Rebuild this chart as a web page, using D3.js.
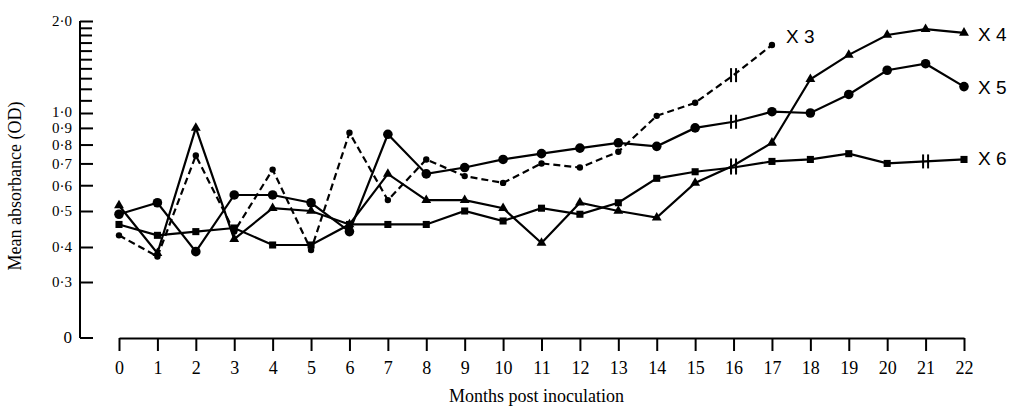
<!DOCTYPE html>
<html>
<head>
<meta charset="utf-8">
<script src="https://cdn.jsdelivr.net/npm/d3@7"></script>
<style>
  body { margin: 0; background: #fff; }
  svg { display: block; }
</style>
</head>
<body>
<div id="chart"></div>
<script>
// months post inoculation
const months = d3.range(0, 23);
const xTickLabels = months.map(String);

// mean absorbance (OD) per series
const x3Values = [0.43, 0.37, 0.74, 0.44, 0.67, 0.39, 0.87, 0.54, 0.72, 0.64, 0.61, 0.70, 0.68, 0.76, 0.98, 1.08, 1.33, 1.67];
const x4Values = [0.52, 0.38, 0.90, 0.42, 0.51, 0.50, 0.46, 0.65, 0.54, 0.54, 0.51, 0.41, 0.53, 0.50, 0.48, 0.61, 0.69, 0.81, 1.29, 1.55, 1.80, 1.88, 1.83];
const x5Values = [0.49, 0.53, 0.385, 0.56, 0.56, 0.53, 0.44, 0.86, 0.65, 0.68, 0.72, 0.75, 0.78, 0.81, 0.79, 0.90, 0.94, 1.01, 1.00, 1.15, 1.38, 1.45, 1.22];
const x6Values = [0.46, 0.43, 0.44, 0.45, 0.405, 0.405, 0.46, 0.46, 0.46, 0.50, 0.47, 0.51, 0.49, 0.53, 0.63, 0.66, 0.68, 0.71, 0.72, 0.75, 0.70, 0.71, 0.72];

// months where the line carries a break mark instead of a marker
const x3Breaks = [16];
const x4Breaks = [16];
const x5Breaks = [16];
const x6Breaks = [16, 21];

const seriesNames = ["X 3", "X 4", "X 5", "X 6"];

// y axis ticks
const yMajorTicks = [0.3, 0.4, 0.5, 0.6, 0.7, 0.8, 0.9, 1.0, 2.0];
const yMajorLabels = ["0·3", "0·4", "0·5", "0·6", "0·7", "0·8", "0·9", "1·0", "2·0"];
const yMinorTicks = [1.1, 1.2, 1.3, 1.4, 1.5, 1.6, 1.7, 1.8, 1.9];
const yZeroLabel = "0";

const series = [
    { name: seriesNames[0], values: x3Values, breaks: x3Breaks },
    { name: seriesNames[1], values: x4Values, breaks: x4Breaks },
    { name: seriesNames[2], values: x5Values, breaks: x5Breaks },
    { name: seriesNames[3], values: x6Values, breaks: x6Breaks }
];

const styles = {
    "X 3": { marker: "dot", dash: "7,4", labelDy: -9 },
    "X 4": { marker: "triangle", dash: null, labelDy: 2 },
    "X 5": { marker: "circle", dash: null, labelDy: 1 },
    "X 6": { marker: "square", dash: null, labelDy: -1 }
};

const width = 1010, height = 406;
const serif = "'Liberation Serif', 'DejaVu Serif', serif";
const sans = "'Liberation Sans', 'DejaVu Sans', sans-serif";

const svg = d3.select("#chart").append("svg")
    .attr("width", width)
    .attr("height", height);

const x = d3.scaleLinear()
    .domain([0, 22])
    .range([119, 964]);

// hand-drawn log axis of the original, a little uneven below 0.5
const y = d3.scaleLog()
    .domain([0.3, 0.4, 0.5, 1.0, 2.0])
    .range([282, 247, 211, 113, 21]);

const axisX = 80;
const baseY = 338;

// y axis (ticks point inward)
const yAxis = svg.append("g")
    .attr("transform", `translate(${axisX},0)`)
    .call(d3.axisLeft(y)
        .tickValues(yMajorTicks)
        .tickFormat((d, i) => yMajorLabels[i])
        .tickSizeInner(-13)
        .tickSizeOuter(0)
        .tickPadding(8));
yAxis.select(".domain").remove();
yAxis.selectAll("line").attr("stroke", "#000").attr("stroke-width", 2);
yAxis.selectAll("text")
    .attr("font-family", serif)
    .attr("font-size", "15px")
    .attr("fill", "#000")
    .attr("dy", d => d === 1.0 ? "0.2em" : "0.32em");

const yMinor = svg.append("g")
    .attr("transform", `translate(${axisX},0)`)
    .call(d3.axisLeft(y)
        .tickValues(yMinorTicks)
        .tickFormat("")
        .tickSizeInner(-12)
        .tickSizeOuter(0));
yMinor.select(".domain").remove();
yMinor.selectAll("line").attr("stroke", "#000").attr("stroke-width", 2);

svg.append("line")
    .attr("x1", axisX).attr("x2", axisX)
    .attr("y1", y(2.0)).attr("y2", baseY)
    .attr("stroke", "#000").attr("stroke-width", 2);

// zero tick below the axis break
svg.append("line")
    .attr("x1", axisX).attr("x2", axisX + 13)
    .attr("y1", baseY).attr("y2", baseY)
    .attr("stroke", "#000").attr("stroke-width", 2);
svg.append("text")
    .attr("x", axisX - 8).attr("y", baseY)
    .attr("dy", "0.32em")
    .attr("text-anchor", "end")
    .attr("font-family", serif)
    .attr("font-size", "17px")
    .text(yZeroLabel);

// x axis
const xAxis = svg.append("g")
    .attr("transform", `translate(0,${baseY})`)
    .call(d3.axisBottom(x)
        .tickValues(months)
        .tickFormat((d, i) => xTickLabels[i])
        .tickSizeInner(13)
        .tickSizeOuter(0)
        .tickPadding(10));
xAxis.select(".domain").attr("stroke", "#000").attr("stroke-width", 2);
xAxis.selectAll("line").attr("stroke", "#000").attr("stroke-width", 2);
xAxis.selectAll("text")
    .attr("font-family", serif)
    .attr("font-size", "18px")
    .attr("fill", "#000");

// axis titles
svg.append("text")
    .attr("x", x(11) - 5).attr("y", 402)
    .attr("text-anchor", "middle")
    .attr("font-family", serif)
    .attr("font-size", "18px")
    .text("Months post inoculation");

svg.append("text")
    .attr("transform", "translate(21,186) rotate(-90)")
    .attr("text-anchor", "middle")
    .attr("font-family", serif)
    .attr("font-size", "18px")
    .text("Mean absorbance (OD)");

// lines
const line = d3.line()
    .x((d, i) => x(months[i]))
    .y(d => y(d));

series.forEach(s => {
    const st = styles[s.name];
    const g = svg.append("g");

    g.append("path")
        .datum(s.values)
        .attr("d", line)
        .attr("fill", "none")
        .attr("stroke", "#000")
        .attr("stroke-width", 2.2)
        .attr("stroke-dasharray", st.dash);

    const pts = s.values.map((v, i) => ({ m: months[i], v }))
        .filter(p => !s.breaks.includes(p.m));

    if (st.marker === "dot" || st.marker === "circle") {
        g.selectAll("circle")
            .data(pts)
            .enter()
            .append("circle")
            .attr("cx", d => x(d.m))
            .attr("cy", d => y(d.v))
            .attr("r", st.marker === "dot" ? 3.2 : 4.8)
            .attr("fill", "#000");
    } else {
        const sym = d3.symbol()
            .type(st.marker === "square" ? d3.symbolSquare : d3.symbolTriangle)
            .size(st.marker === "square" ? 50 : 42);
        g.selectAll("path.mark")
            .data(pts)
            .enter()
            .append("path")
            .attr("class", "mark")
            .attr("d", sym)
            .attr("transform", d => `translate(${x(d.m)},${y(d.v)})`)
            .attr("fill", "#000");
    }

    // break marks
    s.breaks.forEach(m => {
        const cx = x(m), cy = y(s.values[months.indexOf(m)]);
        [-2.5, 2.5].forEach(dx => {
            g.append("line")
                .attr("x1", cx + dx).attr("x2", cx + dx)
                .attr("y1", cy - 7).attr("y2", cy + 7)
                .attr("stroke", "#000")
                .attr("stroke-width", 2);
        });
    });

    // end label
    const last = s.values.length - 1;
    svg.append("text")
        .attr("x", x(months[last]) + 14)
        .attr("y", y(s.values[last]) + st.labelDy)
        .attr("dy", "0.35em")
        .attr("font-family", sans)
        .attr("font-size", "19px")
        .attr("fill", "#000")
        .text(s.name);
});
</script>
</body>
</html>
